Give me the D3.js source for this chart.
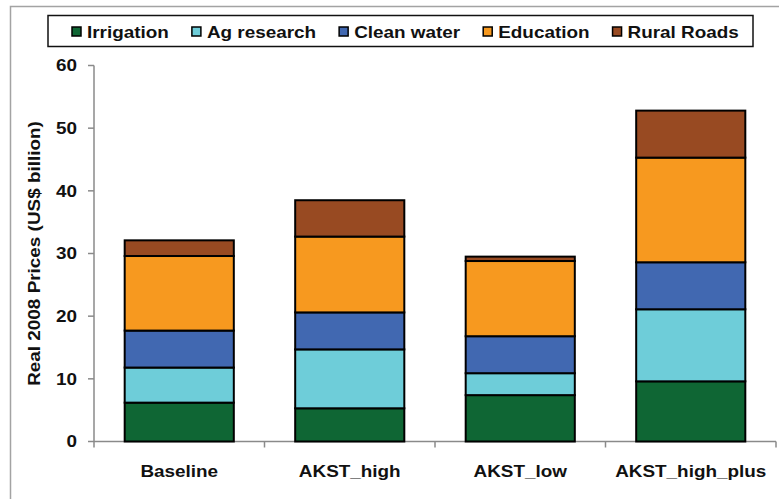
<!DOCTYPE html>
<html>
<head>
<meta charset="utf-8">
<script src="https://cdn.jsdelivr.net/npm/d3@7"></script>
<style>
  html, body { margin: 0; padding: 0; background: #fff; }
  svg text { font-family: "Liberation Sans", Arial, sans-serif; font-weight: bold; fill: #111; }
</style>
</head>
<body>
<svg id="chart" width="779" height="499"></svg>
<script>
// ---- data ----
const categories = ["Baseline", "AKST_high", "AKST_low", "AKST_high_plus"];
const seriesNames = ["Irrigation", "Ag research", "Clean water", "Education", "Rural Roads"];
const irrigation = [6.2, 5.3, 7.4, 9.6];
const agResearch = [5.6, 9.4, 3.5, 11.5];
const cleanWater = [5.9, 5.9, 5.9, 7.5];
const education = [11.9, 12.1, 12.0, 16.7];
const ruralRoads = [2.5, 5.8, 0.7, 7.5];
const yTicks = [0, 10, 20, 30, 40, 50, 60];
const yLabel = "Real 2008 Prices (US$ billion)";
const colors = ["#0f6634", "#6ecdd9", "#4168b1", "#f7991f", "#984a22"];

const seriesValues = [irrigation, agResearch, cleanWater, education, ruralRoads];
const table = categories.map((c, i) => {
  const row = { category: c };
  seriesNames.forEach((s, j) => row[s] = seriesValues[j][i]);
  return row;
});

const FS = 16.3, SX = 1.16;
const svg = d3.select("#chart");

// outer frame
svg.append("rect").attr("x", 10.5).attr("y", 6.5).attr("width", 900).attr("height", 700)
  .attr("fill", "none").attr("stroke", "#a3a3a3").attr("stroke-width", 1.5);

const x = d3.scaleBand().domain(categories).range([94, 776]).paddingInner(0.36).paddingOuter(0.18);
const y = d3.scaleLinear().domain([0, 60]).range([441.5, 65.5]);
const color = d3.scaleOrdinal().domain(seriesNames).range(colors);

// y axis
const axisColor = "#8a8a8a";
svg.append("line").attr("x1", 94).attr("x2", 94).attr("y1", y(60)).attr("y2", y(0))
  .attr("stroke", axisColor).attr("stroke-width", 1.5);
const yt = svg.append("g");
yTicks.forEach(t => {
  yt.append("line").attr("x1", 88).attr("x2", 94).attr("y1", y(t)).attr("y2", y(t))
    .attr("stroke", axisColor).attr("stroke-width", 1.5);
  yt.append("text").attr("text-anchor", "end").attr("font-size", FS)
    .attr("transform", `translate(77,${y(t) + 5.9}) scale(${SX},1)`).text(t);
});

// y label
svg.append("text").attr("text-anchor", "middle").attr("font-size", FS)
  .attr("transform", `translate(39.5,${(y(0) + y(60)) / 2}) rotate(-90) scale(${SX},1)`)
  .text(yLabel);

// x axis
const x0 = x.range()[0], x1 = x.range()[1];
svg.append("line").attr("x1", x0).attr("x2", x1).attr("y1", y(0)).attr("y2", y(0))
  .attr("stroke", axisColor).attr("stroke-width", 1.5);
d3.range(categories.length + 1).forEach(i => {
  const xx = x0 + i * x.step();
  svg.append("line").attr("x1", xx).attr("x2", xx).attr("y1", y(0)).attr("y2", y(0) + 6)
    .attr("stroke", axisColor).attr("stroke-width", 1.5);
});
categories.forEach(c => {
  svg.append("text").attr("text-anchor", "middle").attr("font-size", FS)
    .attr("transform", `translate(${x(c) + x.bandwidth() / 2},477) scale(${SX},1)`).text(c);
});

// bars
const stacked = d3.stack().keys(seriesNames)(table);
svg.append("g").selectAll("g").data(stacked).join("g")
  .attr("fill", d => color(d.key))
  .selectAll("rect").data(d => d).join("rect")
  .attr("x", d => x(d.data.category))
  .attr("width", x.bandwidth())
  .attr("y", d => y(d[1]))
  .attr("height", d => y(d[0]) - y(d[1]))
  .attr("stroke", "#000").attr("stroke-width", 2);

// legend
svg.append("rect").attr("x", 48).attr("y", 15.5).attr("width", 705).attr("height", 31)
  .attr("fill", "#fff").attr("stroke", "#111").attr("stroke-width", 1.5);
let lx = 72;
seriesNames.forEach((s, i) => {
  svg.append("rect").attr("x", lx).attr("y", 27).attr("width", 9).attr("height", 9)
    .attr("fill", colors[i]).attr("stroke", "#000").attr("stroke-width", 1.5);
  const t = svg.append("text").attr("font-size", FS)
    .attr("transform", `translate(${lx + 15},38) scale(${SX},1)`).text(s);
  const w = t.node().getComputedTextLength() * SX;
  lx = lx + 15 + w + 23;
});
</script>
</body>
</html>
